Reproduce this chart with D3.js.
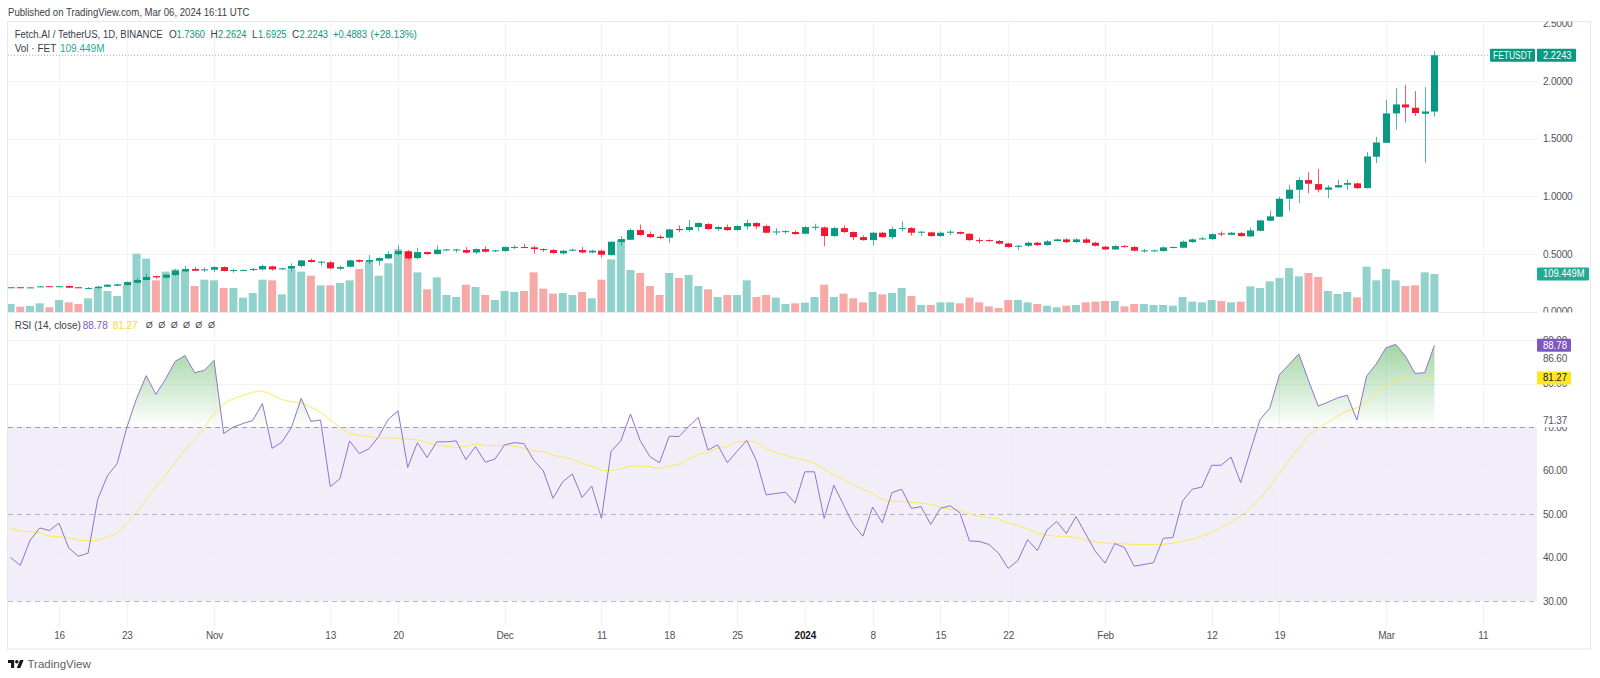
<!DOCTYPE html>
<html>
<head>
<meta charset="utf-8">
<script src="https://d3js.org/d3.v7.min.js"></script>
<style>
html,body{margin:0;padding:0;background:#fff;}
svg{display:block;}
text{font-family:"Liberation Sans",Arial,sans-serif;}
</style>
</head>
<body>
<div id="chart"></div>
<script>
const firstDay = "2023-10-11";
const open = [
.208,.212,.208,.214,.221,.215,.223,.212,.199,.205,
.217,.225,.231,.251,.275,.309,.295,.318,.350,.370,
.361,.364,.387,.353,.355,.361,.367,.393,.367,.373,
.396,.448,.428,.428,.373,.390,.448,.434,.442,.462,
.500,.523,.465,.517,.500,.532,.532,.535,.514,.543,
.526,.526,.555,.561,.558,.543,.535,.506,.529,.535,
.514,.529,.491,.604,.624,.708,.673,.650,.642,.717,
.708,.734,.760,.717,.734,.708,.740,.769,.743,.691,
.691,.691,.676,.731,.731,.656,.725,.691,.647,.621,
.685,.647,.717,.725,.688,.688,.656,.688,.691,.676,
.621,.621,.613,.592,.564,.572,.598,.578,.613,.627,
.604,.627,.598,.564,.540,.569,.561,.529,.529,.526,
.555,.555,.604,.630,.630,.679,.667,.682,.653,.702,
.789,.824,.980,1.058,1.142,1.107,1.058,1.078,1.101,1.113,
1.072,1.344,1.465,1.720,1.798,1.769,1.717,1.736];
const high = [
.214,.214,.213,.222,.223,.224,.224,.214,.214,.225,
.240,.240,.260,.292,.327,.312,.327,.370,.396,.387,
.384,.396,.393,.373,.367,.381,.410,.399,.381,.419,
.448,.460,.439,.439,.402,.451,.454,.491,.471,.526,
.578,.535,.555,.520,.575,.543,.546,.561,.549,.566,
.538,.566,.578,.590,.569,.549,.543,.535,.549,.561,
.538,.538,.610,.656,.723,.757,.696,.665,.717,.749,
.795,.775,.769,.743,.757,.751,.798,.775,.757,.725,
.708,.705,.743,.763,.740,.737,.751,.696,.662,.691,
.691,.740,.786,.734,.702,.694,.696,.708,.696,.679,
.642,.627,.621,.598,.578,.610,.607,.621,.633,.636,
.639,.644,.607,.572,.581,.581,.569,.546,.540,.566,
.566,.618,.636,.650,.679,.696,.691,.691,.731,.795,
.876,.997,1.101,1.168,1.211,1.237,1.098,1.147,1.147,1.121,
1.384,1.517,1.841,1.939,1.968,1.913,1.948,2.2624];
const low = [
.206,.206,.206,.212,.214,.213,.207,.206,.197,.199,
.214,.223,.228,.246,.269,.283,.289,.309,.344,.353,
.344,.344,.350,.338,.353,.353,.358,.355,.361,.350,
.381,.425,.399,.370,.364,.384,.425,.413,.399,.454,
.488,.454,.454,.494,.497,.526,.512,.506,.500,.514,
.517,.520,.543,.552,.503,.520,.503,.494,.523,.506,
.506,.468,.488,.572,.621,.662,.642,.630,.598,.691,
.694,.699,.711,.699,.702,.705,.711,.717,.679,.665,
.676,.668,.673,.708,.569,.650,.682,.621,.616,.575,
.642,.630,.699,.659,.656,.650,.650,.665,.670,.613,
.592,.607,.584,.555,.535,.561,.569,.572,.610,.595,
.595,.592,.566,.535,.538,.558,.523,.512,.523,.523,
.549,.552,.598,.621,.621,.656,.665,.650,.650,.699,
.786,.824,.873,.942,1.026,1.035,.986,1.075,1.058,1.066,
1.069,1.289,1.465,1.578,1.642,1.697,1.292,1.6925];
const close = [
.212,.208,.211,.220,.215,.221,.208,.208,.205,.217,
.234,.237,.257,.275,.301,.298,.321,.355,.370,.355,
.367,.387,.353,.361,.361,.370,.396,.367,.376,.396,
.445,.431,.434,.376,.387,.445,.434,.448,.465,.500,
.526,.462,.517,.500,.538,.540,.540,.512,.543,.520,
.532,.561,.561,.555,.543,.535,.509,.529,.538,.514,
.529,.494,.607,.630,.708,.665,.647,.639,.714,.708,
.734,.769,.717,.734,.708,.743,.769,.740,.685,.696,
.699,.673,.734,.737,.656,.725,.691,.647,.621,.685,
.647,.717,.725,.685,.694,.656,.685,.694,.676,.621,
.618,.616,.590,.561,.572,.598,.578,.610,.627,.604,
.627,.598,.572,.540,.569,.561,.529,.532,.532,.558,
.561,.607,.627,.636,.673,.673,.685,.656,.705,.792,
.827,.980,1.058,1.142,1.110,1.058,1.078,1.098,1.116,1.072,
1.347,1.468,1.720,1.798,1.772,1.723,1.737,2.2243];
const volume = [
23,15.4,17.3,25,13.4,34.6,27.8,23,39.4,69.1,
60.5,46.1,77.8,168,153.6,91.2,116.2,122.9,119,74.9,
93.1,91.2,69.1,69.1,41.3,54.7,93.1,91.2,50.9,122.9,
116.2,104.6,76.8,76.8,83.5,91.2,123.8,145.9,104.6,140.2,
180.5,175.7,114.2,65.3,99.8,49,43.2,78.7,72,49,
34.6,60.5,57.6,60.5,114.2,67.2,52.8,54.7,49,57.6,
39.4,93.1,151.7,207.4,121,112.3,74.9,49,112.3,97.9,
106.6,74.9,65.3,43.2,49,49,91.2,43.2,49,41.3,
23,25,26.9,43.2,78.7,43.2,52.8,39.4,27.8,57.6,
50.9,54.7,69.1,46.1,20.2,20.2,27.8,27.8,25,41.3,
27.8,16.3,11.5,34.6,34.6,27.8,23,18.2,13.4,18.2,
20.2,27.8,29.8,31.7,31.7,16.3,23,23,20.2,20.2,
18.2,43.2,29.8,27.8,34.6,31.7,27.8,29.8,73.9,69.1,
88.3,97.9,126.7,102.7,112.3,100.8,60.5,51.8,57.6,42.2,
130.6,91.2,123.8,91.2,74.9,76.8,114.2,109.449];
const rsi = [
40.0,38.2,43.9,46.8,46.2,47.9,42.2,40.3,41.0,53.4,
58.8,61.6,69.9,76.5,81.8,77.5,81.0,85.1,86.4,82.5,
83.0,85.3,68.5,70.0,70.8,71.5,75.4,65.1,66.5,69.9,
76.6,71.3,71.6,56.3,58.1,66.8,63.9,65.0,67.8,71.8,
73.7,60.7,66.4,63.0,66.6,66.6,66.8,62.5,65.5,61.9,
62.6,65.9,66.4,66.2,62.4,59.9,53.6,57.4,59.2,53.8,
56.4,49.0,64.4,66.8,73.0,66.9,63.2,61.8,67.9,67.8,
70.1,72.2,64.7,65.9,61.8,64.4,66.9,62.3,54.4,54.7,
55.0,52.5,59.7,59.7,49.0,56.6,52.1,47.6,44.9,51.6,
48.0,54.9,55.7,51.3,51.7,47.6,51.3,51.9,50.3,43.8,
43.7,43.0,41.0,37.5,39.3,44.1,41.6,46.3,48.3,45.5,
49.4,45.4,41.4,38.7,43.2,42.3,38.0,38.4,38.8,44.4,
44.6,53.0,55.7,56.2,61.2,61.2,63.1,57.2,64.5,71.7,
74.3,82.0,84.4,86.8,80.7,74.8,75.7,76.7,77.3,71.6,
81.7,84.5,88.2,89.0,86.3,82.3,82.5,88.78];
const rsiMa = [
46.7,46.1,45.9,45.7,44.9,44.8,44.5,44.0,43.8,43.9,
44.7,45.7,47.9,50.5,53.4,56.3,59.0,61.8,64.7,67.2,
69.9,73.1,75.3,76.5,77.3,78.0,78.3,77.4,76.3,75.8,
75.6,74.6,73.4,71.6,69.9,68.4,68.1,67.8,67.5,67.5,
67.4,67.2,67.1,66.4,65.8,65.6,65.2,65.6,66.1,65.8,
65.7,65.8,65.6,65.2,64.5,64.4,63.5,63.1,62.6,61.6,
61.0,60.0,60.0,60.3,61.0,61.0,60.9,60.5,60.9,61.5,
62.6,63.7,64.2,65.1,65.5,66.6,66.8,66.5,65.0,64.1,
63.6,62.9,62.3,61.7,60.3,59.0,58.0,56.7,55.6,54.8,
53.4,52.9,52.9,52.7,52.5,52.2,51.6,51.1,50.9,50.0,
49.5,49.2,48.9,47.9,47.3,46.6,45.6,45.1,44.9,44.9,
44.6,44.1,43.6,43.3,43.3,43.1,43.0,43.0,43.0,43.0,
43.3,43.7,44.2,44.9,45.7,46.9,48.2,49.5,51.3,53.6,
56.3,59.3,62.4,65.3,68.0,69.7,71.1,72.5,73.7,74.4,
75.8,77.7,79.5,80.7,81.5,81.4,81.3,81.27];
const tickDates = ["2023-10-16","2023-10-23","2023-11-01","2023-11-13","2023-11-20","2023-12-01","2023-12-11","2023-12-18","2023-12-25","2024-01-01","2024-01-08","2024-01-15","2024-01-22","2024-02-01","2024-02-12","2024-02-19","2024-03-01","2024-03-11"];
const tickLabels = ["16","23","Nov","13","20","Dec","11","18","25","2024","8","15","22","Feb","12","19","Mar","11"];
const priceTicks = [0,0.5,1,1.5,2,2.5];
const rsiTicks = [30,40,50,60,70,80,90];
const rsiGrid = [40,60,80,90];
const rsiBands = [70,50,30];

[open,high,low,close,volume,rsi,rsiMa].forEach(a=>{ if(a.length!==148) throw new Error("length "+a.length); });

const W=1600,H=678;
const L=8,R=1537,FR=1590.5,TOP=21.5,MAINB=312.5,RSIT=313,GRIDB=627,FB=649;
const UP="#089981",DOWN="#f7162f",UPV="rgba(38,166,154,.5)",DOWNV="rgba(239,83,80,.5)";
const GRID="#f2f3f7",AXT="#4f525c",FS=10;

const dayIdx = s => Math.round((Date.parse(s)-Date.parse(firstDay))/864e5);
const x = d3.scaleLinear().domain([0,147]).range([10.6,1434.4]);
const y = d3.scaleLinear().domain([0,2.5]).range([311.7,23.5]);
const yV = d3.scaleLinear().domain([0,109.449]).range([312,274]);
const yR = d3.scaleLinear().domain([30,90]).range([601,340]);

const svg=d3.select("#chart").append("svg").attr("width",W).attr("height",H).attr("viewBox",`0 0 ${W} ${H}`);
const defs=svg.append("defs");
const clip=(id,x0,y0,x1,y1)=>defs.append("clipPath").attr("id",id).append("rect").attr("x",x0).attr("y",y0).attr("width",x1-x0).attr("height",y1-y0);
clip("cMain",L,TOP,R,MAINB);
clip("cOver",L,RSIT,R,yR(70));
clip("cAxisMain",R,TOP,FR,MAINB);
const grad=defs.append("linearGradient").attr("id","gOver").attr("gradientUnits","userSpaceOnUse")
  .attr("x1",0).attr("x2",0).attr("y1",yR(90)).attr("y2",yR(70));
grad.append("stop").attr("offset",0).attr("stop-color","#4caf50").attr("stop-opacity",.55);
grad.append("stop").attr("offset",1).attr("stop-color","#4caf50").attr("stop-opacity",0);

// band
svg.append("rect").attr("x",L).attr("width",R-L).attr("y",yR(70)).attr("height",yR(30)-yR(70)).attr("fill","rgba(126,87,194,.1)");

// grids
const grid=svg.append("g").attr("stroke",GRID).attr("stroke-width",1);
grid.selectAll(".v").data(tickDates).join("line").attr("x1",d=>Math.round(x(dayIdx(d)))+.5).attr("x2",d=>Math.round(x(dayIdx(d)))+.5).attr("y1",TOP).attr("y2",GRIDB);
grid.selectAll(".h").data(priceTicks.slice(1,-1)).join("line").attr("x1",L).attr("x2",R).attr("y1",d=>Math.round(y(d))+.5).attr("y2",d=>Math.round(y(d))+.5);
grid.selectAll(".r").data(rsiGrid).join("line").attr("x1",L).attr("x2",R).attr("y1",d=>Math.round(yR(d))+.5).attr("y2",d=>Math.round(yR(d))+.5);

// price line
svg.append("line").attr("x1",L).attr("x2",1490).attr("y1",y(close[147])).attr("y2",y(close[147]))
  .attr("stroke",UP).attr("stroke-width",1).attr("stroke-dasharray","1 2").attr("opacity",.55);

// volume
const main=svg.append("g").attr("clip-path","url(#cMain)");
const idx=d3.range(148);
main.append("g").selectAll("rect").data(idx).join("rect")
  .attr("x",i=>x(i)-4).attr("width",8)
  .attr("y",i=>yV(volume[i])).attr("height",i=>yV(0)-yV(volume[i]))
  .attr("fill",i=>close[i]>=open[i]?UPV:DOWNV);
// candles
const cs=main.append("g");
cs.selectAll("line").data(idx).join("line")
  .attr("x1",i=>Math.round(x(i))+.5).attr("x2",i=>Math.round(x(i))+.5)
  .attr("y1",i=>y(high[i])).attr("y2",i=>y(low[i]))
  .attr("stroke",i=>close[i]>=open[i]?UP:DOWN).attr("stroke-width",1).attr("opacity",.7);
cs.selectAll("rect").data(idx).join("rect")
  .attr("x",i=>Math.round(x(i))-3).attr("width",7)
  .attr("y",i=>y(Math.max(open[i],close[i])))
  .attr("height",i=>Math.max(1,Math.abs(y(open[i])-y(close[i]))))
  .attr("fill",i=>close[i]>=open[i]?UP:DOWN);

// RSI bands
svg.append("g").selectAll("line").data(rsiBands).join("line")
  .attr("x1",L).attr("x2",R).attr("y1",d=>Math.round(yR(d))+.5).attr("y2",d=>Math.round(yR(d))+.5)
  .attr("stroke","#787b86").attr("stroke-opacity",d=>d===70?.7:.5).attr("stroke-dasharray","5 4");

// RSI fill
const area=d3.area().x(i=>x(i)).y0(yR(70)).y1(i=>yR(rsi[i]));
svg.append("path").attr("clip-path","url(#cOver)").datum(idx).attr("d",area).attr("fill","url(#gOver)");
// RSI lines
svg.append("path").datum(idx).attr("d",d3.line().x(i=>x(i)).y(i=>yR(rsiMa[i]))).attr("fill","none").attr("stroke","#fdea5a").attr("stroke-width",1);
svg.append("path").datum(idx).attr("d",d3.line().x(i=>x(i)).y(i=>yR(rsi[i]))).attr("fill","none").attr("stroke","#8f74cc").attr("stroke-width",1);

// frame
const frame=svg.append("g").attr("stroke","#e6e8ef").attr("fill","none");
frame.append("rect").attr("x",L-.5).attr("y",TOP).attr("width",FR-L+.5).attr("height",FB-TOP);
frame.append("line").attr("x1",L).attr("x2",R).attr("y1",MAINB).attr("y2",MAINB);

// axes
const styleAxis=g=>{g.select(".domain").remove();g.selectAll("text").attr("fill",AXT).attr("font-size",FS).attr("letter-spacing","-0.2").attr("font-family",'"Liberation Sans",Arial,sans-serif');};
svg.append("g").attr("clip-path","url(#cAxisMain)").append("g").attr("transform",`translate(${R},0)`)
  .call(d3.axisRight(y).tickValues(priceTicks).tickSize(0).tickPadding(6).tickFormat(d3.format(".4f"))).call(styleAxis);
svg.append("g").attr("transform",`translate(${R},0)`)
  .call(d3.axisRight(yR).tickValues(rsiTicks).tickSize(0).tickPadding(6).tickFormat(d3.format(".2f"))).call(styleAxis);
const xa=svg.append("g").attr("transform",`translate(0,630)`)
  .call(d3.axisBottom(x).tickValues(tickDates.map(dayIdx)).tickSize(0).tickPadding(2).tickFormat((d,i)=>tickLabels[i])).call(styleAxis);
xa.selectAll("text").attr("font-weight",(d,i)=>tickLabels[i]==="2024"?700:400).attr("fill",(d,i)=>tickLabels[i]==="2024"?"#131722":AXT);

// extra axis labels (indicator last values on the axis)
const extraLabels=[{v:86.60,dy:4},{v:71.37,dy:0}];
extraLabels.forEach(o=>{
  const yy=yR(o.v)+o.dy;
  svg.append("rect").attr("x",R+3).attr("y",yy-6).attr("width",32).attr("height",12).attr("fill","#fff");
  svg.append("text").attr("x",R+6).attr("y",yy).attr("dy",".32em").attr("font-size",FS).attr("letter-spacing","-0.2").attr("fill",AXT).text(o.v.toFixed(2));
});

// tags
const tag=(x0,wd,yc,fill,color,label,tx,len)=>{
  svg.append("rect").attr("x",x0).attr("width",wd).attr("y",yc-6.5).attr("height",13).attr("rx",1).attr("fill",fill);
  const t=svg.append("text").attr("x",tx).attr("y",yc).attr("dy",".34em").attr("font-size",FS).attr("fill",color).text(label);
  if(len) t.attr("textLength",len).attr("lengthAdjust","spacingAndGlyphs");
};
tag(1490,45,y(close[147]),UP,"#fff","FETUSDT",1493,39);
tag(R,39,y(close[147]),UP,"#fff",close[147].toFixed(4),R+6,28.5);
tag(R,52,yV(volume[147]),"#22ab94","#fff","109.449M",R+6,41.5);
tag(R,34,yR(rsi[147]),"#7e57c2","#fff",rsi[147].toFixed(2),R+6,24);
tag(R,34,yR(rsiMa[147]),"#fde725","#131722",rsiMa[147].toFixed(2),R+6,24);

// header
const T=(x0,yy,s,fill,len,size)=>{
  const t=svg.append("text").attr("x",x0).attr("y",yy).attr("dy",".35em").attr("font-size",size||FS).attr("fill",fill).text(s);
  if(len) t.attr("textLength",len).attr("lengthAdjust","spacingAndGlyphs");
  return t;
};
const DARK="#3b3e48",VAL="#089981";
T(8,12,"Published on TradingView.com, Mar 06, 2024 16:11 UTC",DARK,241.5);
T(14.7,34,"Fetch.AI / TetherUS, 1D, BINANCE",DARK,148);
[["O",169,"1.7360",176.5],["H",210.5,"2.2624",218],["L",252,"1.6925",258],["C",292,"2.2243",299.5]].forEach(r=>{
  T(r[1],34,r[0],DARK);T(r[3],34,r[2],VAL,28.5);
});
T(333,34,"+0.4883",VAL,34);T(370.5,34,"(+28.13%)",VAL);
T(14.7,48,"Vol · FET",DARK);T(60,48,"109.449M","#22ab94");
T(14.7,325,"RSI (14, close)",DARK);T(82.7,325,"88.78","#7e57c2");T(112.7,325,"81.27","#fdd835");
[145.7,158.3,170.7,183,195.3,208].forEach(xx=>T(xx,325,"Ø",DARK,0,9));

// logo
const logo=svg.append("g").attr("transform","translate(8,658.2) scale(.44)").attr("fill","#131722");
logo.append("path").attr("d","M14 22H7V11H0V4h14v18zM28 22h-8l7.5-18h8L28 22z");
logo.append("circle").attr("cx",20).attr("cy",8).attr("r",4);
svg.append("text").attr("x",27.5).attr("y",663.5).attr("dy",".35em").attr("font-size",11.5).attr("fill","#5d606b").text("TradingView");
</script>
</body>
</html>
